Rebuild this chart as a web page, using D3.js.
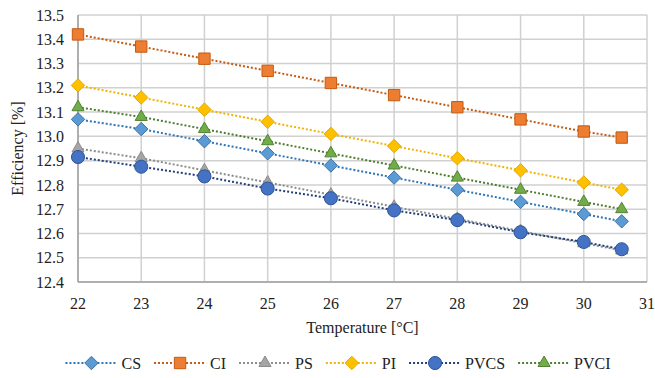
<!DOCTYPE html>
<html lang="en">
<head>
<meta charset="UTF-8">
<title>Efficiency vs Temperature</title>
<script src="https://d3js.org/d3.v7.min.js"></script>
<style>
  body { margin: 0; background: #fff; }
</style>
</head>
<body>
<div id="chart"></div>
<script>
// data
const temps = [22, 23, 24, 25, 26, 27, 28, 29, 30, 30.6];
const csVals   = [13.07, 13.03, 12.98, 12.93, 12.88, 12.83, 12.78, 12.73, 12.68, 12.65];
const ciVals   = [13.42, 13.37, 13.32, 13.27, 13.22, 13.17, 13.12, 13.07, 13.02, 12.995];
const psVals   = [12.95, 12.91, 12.86, 12.81, 12.76, 12.71, 12.66, 12.61, 12.56, 12.53];
const piVals   = [13.21, 13.16, 13.11, 13.06, 13.01, 12.96, 12.91, 12.86, 12.81, 12.78];
const pvcsVals = [12.915, 12.875, 12.835, 12.785, 12.745, 12.695, 12.655, 12.605, 12.565, 12.535];
const pvciVals = [13.12, 13.08, 13.03, 12.98, 12.93, 12.88, 12.83, 12.78, 12.73, 12.70];
const xTicks = [22, 23, 24, 25, 26, 27, 28, 29, 30, 31];
const yTicks = [12.4, 12.5, 12.6, 12.7, 12.8, 12.9, 13.0, 13.1, 13.2, 13.3, 13.4, 13.5];

const series = [
  { name: "CS",   vals: csVals,   shape: "diamond",  fill: "#5B9BD5", edge: "#41719C", line: "#2E75B6" },
  { name: "CI",   vals: ciVals,   shape: "square",   fill: "#ED7D31", edge: "#C55A11", line: "#C55A11" },
  { name: "PS",   vals: psVals,   shape: "triangle", fill: "#A5A5A5", edge: "#8C8C8C", line: "#8C8C8C" },
  { name: "PI",   vals: piVals,   shape: "diamond",  fill: "#FFC000", edge: "#E0A800", line: "#F0B400" },
  { name: "PVCS", vals: pvcsVals, shape: "circle",   fill: "#4472C4", edge: "#2F5597", line: "#203F7A" },
  { name: "PVCI", vals: pvciVals, shape: "triangle", fill: "#70AD47", edge: "#548235", line: "#4E7D2F" }
];

const FONT = "'Liberation Serif', 'DejaVu Serif', serif";
const width = 655, height = 378;
const m = { left: 78, right: 8, top: 15, bottom: 96 };

const x = d3.scaleLinear().domain([22, 31]).range([m.left, width - m.right]);
const y = d3.scaleLinear().domain([12.4, 13.5]).range([height - m.bottom, m.top]);

const svg = d3.select("#chart").append("svg")
  .attr("width", width).attr("height", height)
  .attr("font-family", FONT);

// grid
svg.append("g").selectAll("line").data(yTicks).join("line")
  .attr("x1", x(22)).attr("x2", x(31))
  .attr("y1", d => y(d)).attr("y2", d => y(d))
  .attr("stroke", "#d0d0d0").attr("stroke-width", 1.5);
svg.append("g").selectAll("line").data(xTicks).join("line")
  .attr("y1", y(12.4)).attr("y2", y(13.5))
  .attr("x1", d => x(d)).attr("x2", d => x(d))
  .attr("stroke", "#d0d0d0").attr("stroke-width", 1.5);

// axes lines
svg.append("line").attr("x1", x(22)).attr("x2", x(22))
  .attr("y1", y(12.4)).attr("y2", y(13.5)).attr("stroke", "#a0a0a0").attr("stroke-width", 1.5);
svg.append("line").attr("x1", x(22)).attr("x2", x(31))
  .attr("y1", y(12.4)).attr("y2", y(12.4)).attr("stroke", "#a0a0a0").attr("stroke-width", 1.5);

// tick labels
svg.append("g").selectAll("text").data(yTicks).join("text")
  .attr("x", m.left - 14).attr("y", d => y(d)).attr("dy", "0.35em")
  .attr("text-anchor", "end").attr("font-size", 16).attr("fill", "#222")
  .text(d => d3.format(".1f")(d));
svg.append("g").selectAll("text").data(xTicks).join("text")
  .attr("x", d => x(d)).attr("y", y(12.4) + 27)
  .attr("text-anchor", "middle").attr("font-size", 16).attr("fill", "#222")
  .text(d => d);

// axis titles
svg.append("text")
  .attr("x", (x(22) + x(31)) / 2).attr("y", y(12.4) + 51)
  .attr("text-anchor", "middle").attr("font-size", 16).attr("fill", "#222")
  .text("Temperature [°C]");
svg.append("text")
  .attr("transform", `translate(23,${(y(12.4) + y(13.5)) / 2}) rotate(-90)`)
  .attr("text-anchor", "middle").attr("font-size", 16).attr("fill", "#222")
  .text("Efficiency [%]");

const sym = {
  diamond: d3.symbol(d3.symbolDiamond2, 115),
  square: d3.symbol(d3.symbolSquare2, 165),
  triangle: d3.symbol(d3.symbolTriangle2, 105),
  circle: d3.symbol(d3.symbolCircle, 135)
};

function drawMarker(g, s, cx, cy) {
  g.append("path")
    .attr("d", sym[s.shape]())
    .attr("transform", `translate(${cx},${cy})`)
    .attr("fill", s.fill).attr("stroke", s.edge).attr("stroke-width", 1);
}

const line = d3.line().x(d => x(d[0])).y(d => y(d[1]));

series.forEach(s => {
  const g = svg.append("g");
  const pts = temps.map((t, i) => [t, s.vals[i]]);
  g.append("path").datum(pts).attr("d", line)
    .attr("fill", "none").attr("stroke", s.line)
    .attr("stroke-width", 2).attr("stroke-dasharray", "2,2");
  pts.forEach(p => drawMarker(g, s, x(p[0]), y(p[1])));
});

// legend
const leg = svg.append("g");
const legY = 363;
let cx = 0;
series.forEach(s => {
  const it = leg.append("g").attr("transform", `translate(${cx},0)`);
  it.append("line").attr("x1", 0).attr("x2", 52).attr("y1", legY).attr("y2", legY)
    .attr("stroke", s.line).attr("stroke-width", 2).attr("stroke-dasharray", "2,2");
  drawMarker(it, s, 26, legY);
  const t = it.append("text").attr("x", 56).attr("y", legY).attr("dy", "0.35em")
    .attr("font-size", 16).attr("fill", "#222").text(s.name);
  cx += 56 + t.node().getComputedTextLength() + 13;
});
const totalW = cx - 13;
leg.attr("transform", `translate(${338 - totalW / 2},0)`);
</script>
</body>
</html>
